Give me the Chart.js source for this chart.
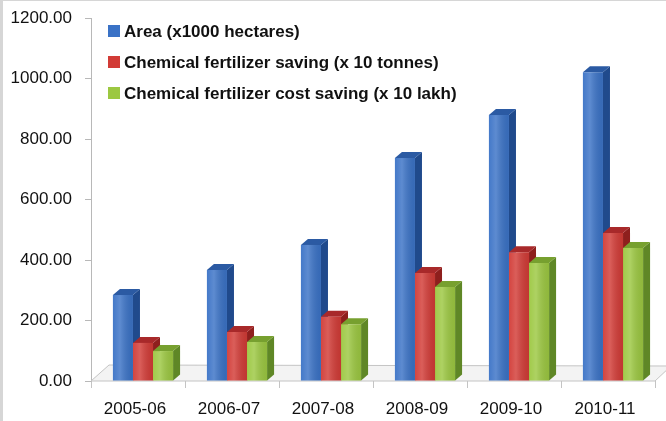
<!DOCTYPE html>
<html>
<head>
    <script src="https://cdn.jsdelivr.net/npm/chart.js"></script>
    <title>Fertilizer saving</title>
    <style>
        body { margin: 0; background: #fff; }
    </style>
</head>
<body>
    <canvas id="savingChart" width="666" height="421"></canvas>

    <script>
        const years = ['2005-06', '2006-07', '2007-08', '2008-09', '2009-10', '2010-11'];
        const seriesNames = [
            'Area (x1000 hectares)',
            'Chemical fertilizer saving (x 10 tonnes)',
            'Chemical fertilizer cost saving (x 10 lakh)'
        ];
        const areaValues = [284, 367, 450, 737, 879, 1021];
        const fertSavingValues = [126, 162, 212, 357, 426, 489];
        const costSavingValues = [99, 129, 188, 311, 390, 440];
        const yTicks = [0, 200, 400, 600, 800, 1000, 1200];

        // front, top, side colours for each series
        const frontColors = ['#3a72c6', '#d23b36', '#9cc841'];
        const topColors = ['#2b5aa3', '#a8292a', '#77a02f'];
        const sideColors = ['#204a8c', '#8e1f1d', '#5f8726'];

        const DX = 7, DY = 6;
        const SHIFT = 5; // bars sit a bit to the right of the category centre (perspective)

        // floor, side and top faces so the bars look like the old 3D excel chart
        const threeD = {
            id: 'threeD',
            beforeDraw(chart) {
                const ctx = chart.ctx;
                ctx.save();
                ctx.fillStyle = '#ffffff';
                ctx.fillRect(0, 0, chart.width, chart.height);
                ctx.fillStyle = '#d6d6d6';
                ctx.fillRect(0, 0, 3, chart.height);
                ctx.fillRect(0, 0, chart.width, 1);
                ctx.restore();
            },
            beforeDatasetsDraw(chart) {
                const ctx = chart.ctx;
                const area = chart.chartArea;
                const yb = chart.scales.y.getPixelForValue(0);
                ctx.save();
                // floor
                ctx.beginPath();
                ctx.moveTo(area.left, yb);
                ctx.lineTo(area.right, yb);
                ctx.lineTo(area.right + 16, yb - 15);
                ctx.lineTo(area.left + 18, yb - 16);
                ctx.closePath();
                ctx.fillStyle = '#f3f3f3';
                ctx.fill();
                ctx.strokeStyle = '#c4c4c4';
                ctx.lineWidth = 1;
                ctx.stroke();
                ctx.restore();

                // kept until afterDatasetsDraw so the bars get the same shift
                ctx.save();
                ctx.translate(SHIFT, 0);
                chart.data.datasets.forEach((ds, i) => {
                    const meta = chart.getDatasetMeta(i);
                    meta.data.forEach(bar => {
                        const l = bar.x - bar.width / 2;
                        const r = bar.x + bar.width / 2;
                        const t = bar.y;
                        const b = bar.base;
                        ctx.fillStyle = sideColors[i];
                        ctx.beginPath();
                        ctx.moveTo(r, t);
                        ctx.lineTo(r + DX, t - DY);
                        ctx.lineTo(r + DX, b - DY);
                        ctx.lineTo(r, b);
                        ctx.closePath();
                        ctx.fill();
                        ctx.fillStyle = topColors[i];
                        ctx.beginPath();
                        ctx.moveTo(l, t);
                        ctx.lineTo(l + DX, t - DY);
                        ctx.lineTo(r + DX, t - DY);
                        ctx.lineTo(r, t);
                        ctx.closePath();
                        ctx.fill();
                    });
                });
            },
            afterDatasetsDraw(chart) {
                const ctx = chart.ctx;
                chart.data.datasets.forEach((ds, i) => {
                    chart.getDatasetMeta(i).data.forEach(bar => {
                        const l = bar.x - bar.width / 2;
                        const g = ctx.createLinearGradient(l, 0, l + bar.width, 0);
                        g.addColorStop(0, 'rgba(255,255,255,0.05)');
                        g.addColorStop(0.35, 'rgba(255,255,255,0.18)');
                        g.addColorStop(1, 'rgba(0,0,0,0.08)');
                        ctx.fillStyle = g;
                        ctx.fillRect(l, bar.y, bar.width, bar.base - bar.y);
                    });
                });
                ctx.restore();
            },
            afterDraw(chart) {
                // legend stacked at the top left, inside the plot
                const ctx = chart.ctx;
                ctx.save();
                ctx.font = 'bold 17px "Liberation Sans", Arial, sans-serif';
                ctx.textBaseline = 'middle';
                chart.data.datasets.forEach((ds, i) => {
                    const y = 31 + i * 31;
                    ctx.fillStyle = frontColors[i];
                    ctx.fillRect(108, y - 6, 12, 12);
                    ctx.fillStyle = '#111';
                    ctx.fillText(ds.label, 124, y + 1);
                });
                ctx.restore();
            }
        };

        const canvas = document.getElementById('savingChart');
        const chart = new Chart(canvas.getContext('2d'), {
            type: 'bar',
            data: {
                labels: years,
                datasets: [
                    { label: seriesNames[0], data: areaValues, backgroundColor: frontColors[0] },
                    { label: seriesNames[1], data: fertSavingValues, backgroundColor: frontColors[1] },
                    { label: seriesNames[2], data: costSavingValues, backgroundColor: frontColors[2] }
                ]
            },
            options: {
                responsive: false,
                animation: false,
                layout: {
                    padding: { left: 0, right: 11, top: 18, bottom: 0 }
                },
                datasets: {
                    bar: { categoryPercentage: 0.64, barPercentage: 1.0 }
                },
                scales: {
                    y: {
                        min: 0,
                        max: 1200,
                        afterBuildTicks: axis => { axis.ticks = yTicks.map(v => ({ value: v })); },
                        afterFit: axis => {
                            axis.width = 91;
                            axis.paddingTop = 0;
                            axis.paddingBottom = 0;
                        },
                        ticks: {
                            callback: v => Number(v).toFixed(2),
                            font: { family: '"Liberation Sans", Arial, sans-serif', size: 17 },
                            color: '#111',
                            padding: 13
                        },
                        grid: { drawOnChartArea: false, tickLength: 6, color: '#b8b8b8' },
                        border: { color: '#b8b8b8' }
                    },
                    x: {
                        afterFit: axis => { axis.height = 40; },
                        ticks: {
                            font: { family: '"Liberation Sans", Arial, sans-serif', size: 17 },
                            color: '#111',
                            padding: 11,
                            labelOffset: -3
                        },
                        grid: { offset: true, drawOnChartArea: false, tickLength: 7, color: '#c4c4c4' },
                        border: { display: false }
                    }
                },
                plugins: {
                    legend: { display: false },
                    tooltip: { enabled: false }
                }
            },
            plugins: [threeD]
        });
    </script>
</body>
</html>
